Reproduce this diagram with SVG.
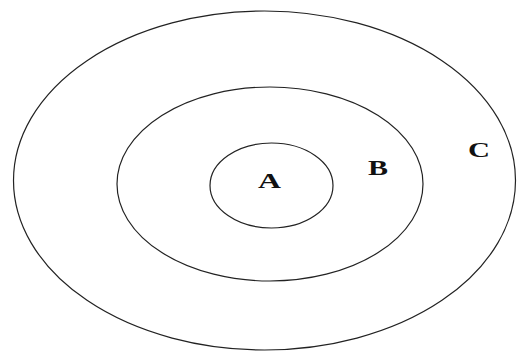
<svg xmlns="http://www.w3.org/2000/svg" width="517" height="354" viewBox="0 0 517 354">
<style>
.ring{fill:none;stroke:#222;stroke-width:1.2}
.lbl{font-family:"Liberation Serif","Times New Roman",serif;font-weight:bold;font-size:20px;fill:#111}
</style>
<rect width="517" height="354" fill="#fff"/>
<g id="C">
<ellipse class="ring" cx="264.5" cy="180.5" rx="251" ry="169.5"/>
<text class="lbl" x="468" y="157" textLength="22" lengthAdjust="spacingAndGlyphs">C</text>
</g>
<g id="B">
<ellipse class="ring" cx="270" cy="184" rx="153" ry="97"/>
<text class="lbl" x="368" y="175" textLength="20" lengthAdjust="spacingAndGlyphs">B</text>
</g>
<g id="A">
<ellipse class="ring" cx="271.5" cy="185.5" rx="61.5" ry="42.5"/>
<text class="lbl" x="258" y="188" textLength="23" lengthAdjust="spacingAndGlyphs">A</text>
</g>
<g id="connectors"/>
</svg>
